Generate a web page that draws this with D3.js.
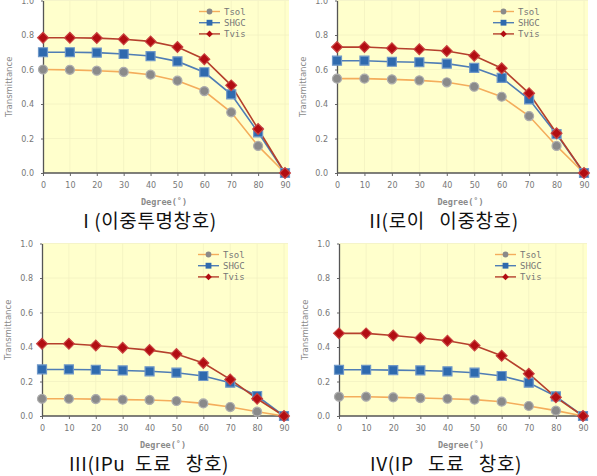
<!DOCTYPE html>
<html>
<head>
<meta charset="utf-8">
<script src="https://cdnjs.cloudflare.com/ajax/libs/d3/7.8.5/d3.min.js"></script>
<style>
  body { margin: 0; background: #ffffff; }
  svg { display: block; }
</style>
</head>
<body>
<div id="my_dataviz"></div>
<script>
// data
const degrees = [0, 10, 20, 30, 40, 50, 60, 70, 80, 90];
const seriesNames = ["Tsol", "SHGC", "Tvis"];
const yTicks = [0, 0.2, 0.4, 0.6, 0.8, 1.0];

const panelTitles = [
  "I\u00a0(이중투명창호)",
  "II(로이\u00a0\u00a0\u00a0이중창호)",
  "III(IPu\u00a0\u00a0도료\u00a0\u00a0\u00a0창호)",
  "IV(IP\u00a0\u00a0\u00a0도료\u00a0\u00a0\u00a0창호)"
];

// I
const tsol1 = [0.60, 0.598, 0.593, 0.586, 0.57, 0.535, 0.475, 0.352, 0.157, 0];
const shgc1 = [0.70, 0.70, 0.698, 0.69, 0.678, 0.647, 0.584, 0.456, 0.236, 0];
const tvis1 = [0.784, 0.784, 0.782, 0.775, 0.763, 0.73, 0.66, 0.508, 0.255, 0];
// II
const tsol2 = [0.547, 0.547, 0.543, 0.537, 0.526, 0.50, 0.442, 0.33, 0.157, 0];
const shgc2 = [0.651, 0.651, 0.645, 0.642, 0.634, 0.61, 0.552, 0.427, 0.225, 0];
const tvis2 = [0.73, 0.73, 0.723, 0.717, 0.707, 0.68, 0.607, 0.462, 0.23, 0];
// III
const tsol3 = [0.10, 0.10, 0.098, 0.095, 0.093, 0.087, 0.073, 0.052, 0.025, 0];
const shgc3 = [0.27, 0.27, 0.268, 0.264, 0.259, 0.251, 0.232, 0.193, 0.116, 0];
const tvis3 = [0.419, 0.419, 0.409, 0.396, 0.382, 0.359, 0.307, 0.212, 0.10, 0];
// IV
const tsol4 = [0.112, 0.112, 0.108, 0.104, 0.10, 0.095, 0.083, 0.058, 0.031, 0];
const shgc4 = [0.268, 0.268, 0.266, 0.264, 0.259, 0.251, 0.232, 0.193, 0.114, 0];
const tvis4 = [0.479, 0.479, 0.467, 0.452, 0.436, 0.409, 0.349, 0.245, 0.108, 0];

const panelSeries = [
  [tsol1, shgc1, tvis1],
  [tsol2, shgc2, tvis2],
  [tsol3, shgc3, tvis3],
  [tsol4, shgc4, tvis4]
];

// layout of each panel (left edge of axis, bottom of axis, width)
const panelBox = [
  { left: 43, bottom: 173, w: 242 },
  { left: 337, bottom: 173, w: 247 },
  { left: 42, bottom: 416, w: 242 },
  { left: 339, bottom: 416, w: 244 }
];
const plotH = 172.5;

// colours
const lineColor = ["#f4ad5c", "#4f7db5", "#b5402c"];
const markFill = ["#8a8a8a", "#2f6aae", "#b20d12"];
const markStroke = ["#adadad", "#6f98c8", "#c8403f"];
const basegrey = "#777777";
const bgYellow = "#ffffcc";

const symbols = [
  d3.symbol().type(d3.symbolCircle).size(64),
  d3.symbol().type(d3.symbolSquare).size(81),
  d3.symbol().type(d3.symbolSquare).size(58)
];
const symbolsSmall = [
  d3.symbol().type(d3.symbolCircle).size(26),
  d3.symbol().type(d3.symbolSquare).size(34),
  d3.symbol().type(d3.symbolSquare).size(22)
];

const svg = d3.select("#my_dataviz")
  .append("svg")
  .attr("width", 597)
  .attr("height", 476);

panelBox.forEach(function (box, p) {
  const g = svg.append("g")
    .attr("transform", `translate(${box.left},${box.bottom - plotH})`);

  const x = d3.scaleLinear().domain([0, 90]).range([0, box.w]);
  const y = d3.scaleLinear().domain([0, 1]).range([plotH, 0]);

  // yellow plot area
  g.append("rect")
    .attr("x", 0)
    .attr("y", 0)
    .attr("width", box.w + 4)
    .attr("height", plotH)
    .attr("fill", bgYellow);

  // faint grid
  g.append("g")
    .selectAll("line")
    .data(degrees.slice(1))
    .enter()
    .append("line")
    .attr("x1", d => x(d)).attr("x2", d => x(d))
    .attr("y1", 0).attr("y2", plotH)
    .attr("stroke", "#f2f1c2")
    .attr("stroke-width", 0.8);
  g.append("g")
    .selectAll("line")
    .data(yTicks.slice(1))
    .enter()
    .append("line")
    .attr("x1", 0).attr("x2", box.w + 4)
    .attr("y1", d => y(d)).attr("y2", d => y(d))
    .attr("stroke", "#f2f1c2")
    .attr("stroke-width", 0.8);

  // axes
  const xAxis = g.append("g")
    .attr("transform", `translate(0,${plotH})`)
    .call(d3.axisBottom(x).tickValues(degrees).tickSize(3).tickPadding(6).tickSizeOuter(0));
  const yAxis = g.append("g")
    .call(d3.axisLeft(y).tickValues(yTicks).tickFormat(d3.format(".1f")).tickSize(2).tickPadding(7).tickSizeOuter(0));

  [xAxis, yAxis].forEach(function (a) {
    a.select(".domain").attr("stroke", "#555555").attr("stroke-width", 1.3);
    a.selectAll(".tick line").attr("stroke", "#666666");
    a.selectAll("text")
      .style("font-family", "DejaVu Sans")
      .style("font-size", "8px")
      .attr("fill", basegrey);
  });
  xAxis.select(".domain").attr("d", `M0,0H${box.w + 4}`);

  // axis titles
  g.append("text")
    .attr("transform", `translate(-31,${plotH / 2}) rotate(-90)`)
    .attr("text-anchor", "middle")
    .style("font-family", "DejaVu Sans")
    .style("font-size", "8.5px")
    .attr("fill", "#8a8a8a")
    .text("Transmittance");

  g.append("text")
    .attr("x", box.w / 2)
    .attr("y", plotH + 32)
    .attr("text-anchor", "middle")
    .style("font-family", "DejaVu Sans Mono")
    .style("font-size", "8.5px")
    .style("font-weight", "bold")
    .attr("fill", "#8a8a8a")
    .text("Degree(˚)");

  // lines and markers
  const line = d3.line()
    .x((d, i) => x(degrees[i]))
    .y(d => y(d));

  panelSeries[p].forEach(function (vals, s) {
    g.append("path")
      .datum(vals)
      .attr("fill", "none")
      .attr("stroke", lineColor[s])
      .attr("stroke-width", 1.6)
      .attr("d", line);
  });
  panelSeries[p].forEach(function (vals, s) {
    g.append("g")
      .selectAll("path")
      .data(vals)
      .enter()
      .append("path")
      .attr("d", symbols[s])
      .attr("transform", (d, i) => `translate(${x(degrees[i])},${y(d)})` + (s === 2 ? " rotate(45)" : ""))
      .attr("fill", markFill[s])
      .attr("stroke", markStroke[s])
      .attr("stroke-width", 1.2);
  });

  // legend
  const leg = g.append("g").attr("transform", `translate(156,0)`);
  seriesNames.forEach(function (name, s) {
    const ly = 11 + s * 11.2;
    leg.append("line")
      .attr("x1", 0).attr("x2", 21)
      .attr("y1", ly).attr("y2", ly)
      .attr("stroke", lineColor[s])
      .attr("stroke-width", 1.4);
    leg.append("path")
      .attr("d", symbolsSmall[s])
      .attr("transform", `translate(10.5,${ly})` + (s === 2 ? " rotate(45)" : ""))
      .attr("fill", markFill[s]);
    leg.append("text")
      .attr("x", 25)
      .attr("y", ly + 3)
      .style("font-family", "DejaVu Sans Mono")
      .style("font-size", "9px")
      .attr("fill", "#777777")
      .text(name);
  });

  // panel caption
  svg.append("text")
    .attr("x", box.left + 107)
    .attr("y", box.bottom + 55)
    .attr("text-anchor", "middle")
    .style("font-family", "Noto Sans CJK KR")
    .style("font-size", "19px")
    .style("letter-spacing", "0.6px")
    .attr("fill", "#111111")
    .text(panelTitles[p]);
});
</script>
</body>
</html>
